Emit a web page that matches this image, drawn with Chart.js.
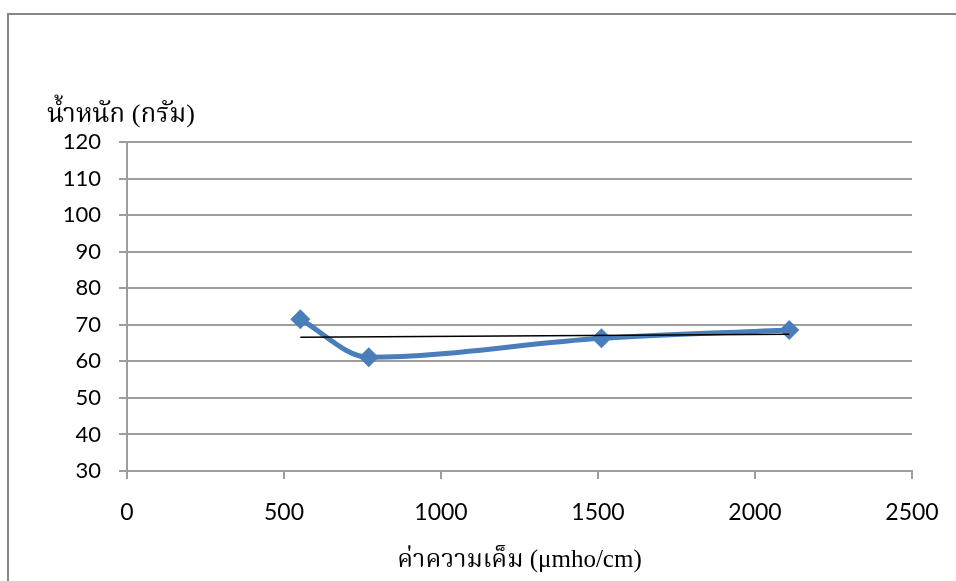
<!DOCTYPE html>
<html lang="th">
<head>
    <meta charset="UTF-8">
    <title>weight vs salinity</title>
    <style>
        html, body {
            margin: 0;
            padding: 0;
            background: #fff;
        }
        .frame {
            position: absolute;
            left: 7px;
            top: 13px;
            width: 1000px;
            height: 600px;
            border-left: 2px solid #878787;
            border-top: 2px solid #878787;
        }
        .box {
            position: absolute;
            left: 0;
            top: 0;
            width: 956px;
            height: 581px;
        }
    </style>
</head>
<body>
    <div class="frame"></div>
    <div class="box">
        <canvas id="myChart" width="956" height="581"></canvas>
    </div>

    <script src="https://cdn.jsdelivr.net/npm/chart.js"></script>
    <script>
        // ค่าที่อ่านจากกราฟ
        let salinity = [552, 770, 1511, 2109];
        let weight = [71.5, 61.1, 66.3, 68.6];
        let trendX = [552, 2109];
        let trendY = [66.6, 67.4];
        let xTicks = [0, 500, 1000, 1500, 2000, 2500];
        let yTicks = [30, 40, 50, 60, 70, 80, 90, 100, 110, 120];
        let yTitle = 'น้ำหนัก (กรัม)';
        let xTitle = 'ค่าความเค็ม (μmho/cm)';

        let points = [];
        for (let i = 0; i < salinity.length; i++) {
            points.push({ x: salinity[i], y: weight[i] });
        }
        let trend = [];
        for (let i = 0; i < trendX.length; i++) {
            trend.push({ x: trendX[i], y: trendY[i] });
        }

        let gridColor = '#9d9d9d';
        let thaiFont = '"Liberation Serif", "Noto Serif Thai", "Noto Sans Thai", serif';

        // ชื่อแกนวาดเอง (แกน y อยู่แนวนอนด้านบน)
        let axisTitles = {
            id: 'axisTitles',
            afterDraw(chart) {
                let ctx = chart.ctx;
                let area = chart.chartArea;
                ctx.save();
                ctx.fillStyle = '#000';
                ctx.font = '26px ' + thaiFont;
                ctx.textBaseline = 'alphabetic';
                ctx.textAlign = 'left';
                ctx.fillText(yTitle, 47, 122);
                ctx.font = '25px ' + thaiFont;
                ctx.textAlign = 'center';
                ctx.fillText(xTitle, (area.left + area.right) / 2, 567);
                ctx.restore();
            }
        };

        let ctx = document.getElementById('myChart');
        let myChart = new Chart(ctx, {
            type: 'scatter',
            data: {
                datasets: [{
                    data: points,
                    showLine: true,
                    borderColor: '#4a7ebb',
                    backgroundColor: '#4a7ebb',
                    borderWidth: 5,
                    cubicInterpolationMode: 'monotone',
                    pointStyle: 'rectRot',
                    pointRadius: 10,
                    pointBorderWidth: 0,
                    order: 2
                }, {
                    data: trend,
                    showLine: true,
                    borderColor: '#000',
                    borderWidth: 1.5,
                    pointRadius: 0,
                    tension: 0,
                    order: 1
                }]
            },
            options: {
                responsive: false,
                animation: false,
                layout: {
                    padding: { left: 0, top: 142, right: 44, bottom: 0 }
                },
                plugins: {
                    legend: { display: false },
                    tooltip: { enabled: false }
                },
                scales: {
                    x: {
                        type: 'linear',
                        min: 0,
                        max: 2500,
                        afterBuildTicks(scale) {
                            scale.ticks = xTicks.map(v => ({ value: v }));
                        },
                        afterFit(scale) {
                            scale.height = 110;
                            scale.paddingLeft = 0;
                            scale.paddingRight = 0;
                        },
                        grid: {
                            drawOnChartArea: false,
                            drawTicks: true,
                            tickLength: 8,
                            color: gridColor,
                            lineWidth: 2
                        },
                        border: { color: gridColor, width: 2 },
                        ticks: {
                            color: '#000',
                            padding: 20,
                            maxRotation: 0,
                            callback: v => String(v),
                            font: { family: 'Lato', size: 23 }
                        }
                    },
                    y: {
                        min: 30,
                        max: 120,
                        afterBuildTicks(scale) {
                            scale.ticks = yTicks.map(v => ({ value: v }));
                        },
                        afterFit(scale) {
                            scale.width = 127;
                        },
                        grid: {
                            drawTicks: true,
                            tickLength: 8,
                            color: gridColor,
                            lineWidth: 2
                        },
                        border: { color: gridColor, width: 2 },
                        ticks: {
                            color: '#000',
                            padding: 18,
                            callback: v => String(v),
                            font: { family: 'Lato', size: 22 }
                        }
                    }
                }
            },
            plugins: [axisTitles]
        });
    </script>
</body>
</html>
